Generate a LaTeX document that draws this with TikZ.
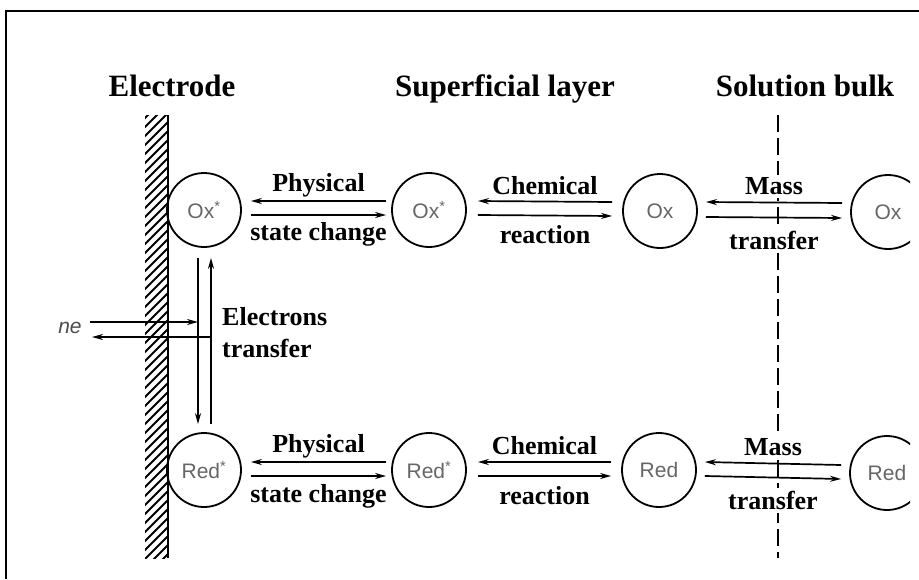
\documentclass[tikz,border=0pt]{standalone}
\usepackage{fontspec}
\setmainfont{Liberation Serif}
\newfontfamily\circfont{Liberation Sans}
\usetikzlibrary{arrows.meta,calc}
\begin{document}
\begin{tikzpicture}[x=1pt,y=-1pt,
  species/.style={circle,draw,line width=1.8pt,minimum size=74pt,inner sep=0pt,
     font=\circfont\fontsize{21}{21}\selectfont,text=black!60},
  lab/.style={font=\bfseries\fontsize{26}{26}\selectfont,inner sep=0pt},
  wlab/.style={lab,fill=white,inner xsep=2pt,inner ysep=3pt},
  hdr/.style={font=\bfseries\fontsize{31}{31}\selectfont,inner sep=0pt,anchor=base},
  arr/.style={line width=1.7pt,-{Stealth[length=11pt,width=6pt]}},
  dashline/.style={line width=2.2pt,dash pattern=on 17pt off 6pt}]
\useasboundingbox (0,0) rectangle (919,579);
% frame
\draw[line width=2.2pt] (6,579) -- (6,11) -- (919,11);
% headers
\node[hdr] (h1) at (172,96) {Electrode};
\node[hdr] (h2) at (505,96) {Superficial layer};
\node[hdr] (h3) at (805,96) {Solution bulk};
\begin{scope}
\clip (0,0) rectangle (910,579);
% electrode hatch
\begin{scope}
\clip (145,115) rectangle (168,558);
\foreach \k in {0,...,52}{
  \draw[line width=2pt] (138,125+9*\k) -- (176,87+9*\k);
}
\end{scope}
\draw[line width=2pt] (168,115) -- (168,558);
% dashed line
\draw[dashline] (778,115) -- (778,558);
% species
\node[species] (ox1) at (204,210) {Ox\textsuperscript{*}};
\node[species] (ox2) at (429,210) {Ox\textsuperscript{*}};
\node[species] (ox3) at (660,211) {Ox};
\node[species] (ox4) at (888,212) {Ox};
\node[species] (rd1) at (204,470) {Red\textsuperscript{*}};
\node[species] (rd2) at (429,470) {Red\textsuperscript{*}};
\node[species] (rd3) at (659,470) {Red};
\node[species] (rd4) at (887,473) {Red};
% Ox row arrows
\draw[arr] ($(ox2.west)+(-5,-9)$) -- node[lab,yshift=16pt] {Physical} ($(ox1.east)+(9,-9)$);
\draw[arr] ($(ox1.east)+(9,5)$) -- node[lab,yshift=-19pt] {state change} ($(ox2.west)+(-5,5)$);
\draw[arr] ($(ox3.west)+(-10,-9)$) -- node[lab,yshift=16pt] {Chemical} ($(ox2.east)+(11,-9)$);
\draw[arr] ($(ox2.east)+(11,5)$) -- node[lab,yshift=-19pt] {reaction} ($(ox3.west)+(-10,5)$);
\draw[arr] ($(ox4.west)+(-8,-9)$) -- node[wlab,yshift=16pt] {Mass} ($(ox3.east)+(8,-9)$);
\draw[arr] ($(ox3.east)+(8,6)$) -- node[wlab,yshift=-23pt] {transfer} ($(ox4.west)+(-8,6)$);
% Red row arrows
\draw[arr] ($(rd2.west)+(-5,-8)$) -- node[lab,yshift=16pt] {Physical} ($(rd1.east)+(9,-8)$);
\draw[arr] ($(rd1.east)+(9,6)$) -- node[lab,yshift=-20pt] {state change} ($(rd2.west)+(-5,6)$);
\draw[arr] ($(rd3.west)+(-10,-8)$) -- node[lab,yshift=16pt] {Chemical} ($(rd2.east)+(11,-8)$);
\draw[arr] ($(rd2.east)+(11,6)$) -- node[lab,yshift=-20pt] {reaction} ($(rd3.west)+(-10,6)$);
\draw[arr] ($(rd4.west)+(-8,-8)$) -- node[wlab,yshift=16pt] {Mass} ($(rd3.east)+(8,-8)$);
\draw[arr] ($(rd3.east)+(8,6)$) -- node[wlab,yshift=-23pt] {transfer} ($(rd4.west)+(-8,6)$);
% electron transfer verticals
\draw[arr] ($(ox1.south)+(-6,10)$) coordinate (vL) -- ($(rd1.north)+(-6,-8)$);
\draw[arr] ($(rd1.north)+(7,-8)$) -- ($(ox1.south)+(7,10)$) coordinate (vR);
% ne arrows
\coordinate (neIn) at (90,322);
\coordinate (neOut) at (92,337);
\draw[arr] (neIn) -- (vL |- neIn);
\draw[arr] (vR |- neOut) -- (neOut);
\node[font=\circfont\itshape\fontsize{21}{21}\selectfont,text=black!70] (ne) at (70,328) {ne};
\node[lab,anchor=west,align=left] (et) at (222,333) {Electrons\\[6pt]transfer};
\end{scope}
\end{tikzpicture}
\end{document}
